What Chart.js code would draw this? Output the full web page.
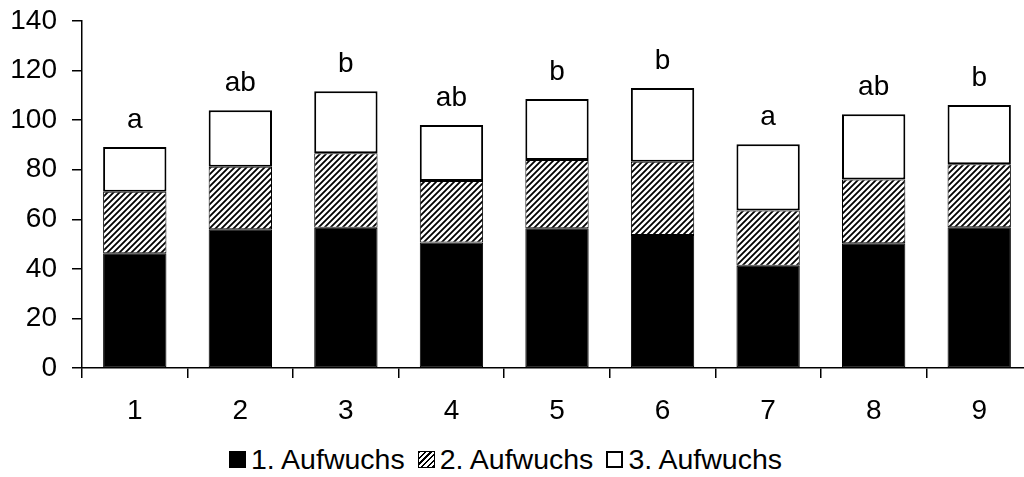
<!DOCTYPE html>
<html>
<head>
<meta charset="utf-8">
<script src="https://cdn.jsdelivr.net/npm/chart.js@4"></script>
<style>
  html, body { margin: 0; padding: 0; background: #fff; overflow: hidden; }
  #wrap { position: relative; width: 1024px; height: 477px; overflow: hidden; }
  #box { position: absolute; left: 0; top: 0; width: 1032px; height: 440px; }
  #legende {
    position: absolute; left: 229px; top: 443px;
    display: flex; align-items: center; white-space: nowrap;
    font-family: 'Liberation Sans', Arial, sans-serif; font-size: 28.5px; color: #000;
  }
  #legende .kasten { width: 17px; height: 17px; box-sizing: border-box; margin-right: 5px; }
  #legende .eintrag { display: flex; align-items: center; margin-right: 13px; }
  .k1 { background: #000; }
  .k2 { border: 1.5px solid #000; background: repeating-linear-gradient(-45deg, #000 0 1.6px, #fff 1.6px 4px); }
  .k3 { border: 2px solid #000; background: #fff; }
</style>
</head>
<body>
<div id="wrap">
  <div id="box"><canvas id="aufwuchsChart"></canvas></div>
  <div id="legende"></div>
</div>
<script>
const kategorien = ['1', '2', '3', '4', '5', '6', '7', '8', '9'];
const aufwuchs1 = [46.3, 56.0, 56.6, 50.6, 56.4, 53.7, 41.3, 50.3, 56.8];
const aufwuchs2 = [24.8, 25.2, 30.0, 24.8, 27.5, 29.5, 22.2, 25.8, 25.4];
const aufwuchs3 = [18.1, 22.8, 25.1, 22.6, 24.6, 29.8, 26.8, 26.3, 23.9];
const buchstaben = ['a', 'ab', 'b', 'ab', 'b', 'b', 'a', 'ab', 'b'];
const serienNamen = ['1. Aufwuchs', '2. Aufwuchs', '3. Aufwuchs'];
const yMin = 0, yMax = 140, yStep = 20;

const schrift = "'Liberation Sans', Arial, sans-serif";

// Schraffur fuer den 2. Aufwuchs
function schraffur(ctx) {
  const tile = document.createElement('canvas');
  tile.width = 6; tile.height = 6;
  const t = tile.getContext('2d');
  t.fillStyle = '#fff';
  t.fillRect(0, 0, 6, 6);
  t.strokeStyle = '#000';
  t.lineWidth = 1.8;
  t.beginPath();
  t.moveTo(0, 6); t.lineTo(6, 0);
  t.moveTo(-1, 1); t.lineTo(1, -1);
  t.moveTo(5, 7); t.lineTo(7, 5);
  t.stroke();
  return ctx.createPattern(tile, 'repeat');
}

const buchstabenPlugin = {
  id: 'buchstaben',
  afterDatasetsDraw(chart) {
    const ctx = chart.ctx;
    const meta = chart.getDatasetMeta(2);
    ctx.save();
    ctx.font = '28px ' + schrift;
    ctx.fillStyle = '#000';
    ctx.textAlign = 'center';
    ctx.textBaseline = 'alphabetic';
    meta.data.forEach((bar, i) => {
      ctx.fillText(buchstaben[i], bar.x, bar.y - 19);
    });
    ctx.restore();
  }
};

const ctx = document.getElementById('aufwuchsChart').getContext('2d');

new Chart(ctx, {
  type: 'bar',
  data: {
    labels: kategorien,
    datasets: [{
      label: serienNamen[0],
      data: aufwuchs1,
      backgroundColor: '#000',
      borderColor: '#000',
      borderWidth: 1,
      borderSkipped: false
    },
    {
      label: serienNamen[1],
      data: aufwuchs2,
      backgroundColor: schraffur(ctx),
      borderColor: '#000',
      borderWidth: 1,
      borderSkipped: false
    },
    {
      label: serienNamen[2],
      data: aufwuchs3,
      backgroundColor: '#fff',
      borderColor: '#000',
      borderWidth: 2,
      borderSkipped: false
    }]
  },
  options: {
    responsive: true,
    maintainAspectRatio: false,
    animation: false,
    barPercentage: 0.6,
    categoryPercentage: 1,
    layout: { padding: { top: 21, left: 0, right: 0, bottom: 0 } },
    plugins: {
      legend: { display: false },
      tooltip: { enabled: false }
    },
    scales: {
      x: {
        stacked: true,
        afterFit: s => { s.height = 72; s.paddingLeft = 0; s.paddingRight = 0; },
        grid: { offset: true, drawOnChartArea: false, drawTicks: true, tickLength: 10, color: '#000', lineWidth: 1.5 },
        border: { color: '#000', width: 1.5 },
        ticks: { color: '#000', padding: 16, font: { family: schrift, size: 28 } }
      },
      y: {
        stacked: true,
        min: yMin,
        max: yMax,
        afterFit: s => { s.width = 82; s.paddingTop = 0; s.paddingBottom = 0; },
        grid: { drawOnChartArea: false, drawTicks: true, tickLength: 10, color: '#000', lineWidth: 1.5 },
        border: { color: '#000', width: 1.5 },
        ticks: { stepSize: yStep, color: '#000', padding: 15, font: { family: schrift, size: 28 } }
      }
    }
  },
  plugins: [buchstabenPlugin]
});

// Legende unten
const legende = document.getElementById('legende');
serienNamen.forEach((name, i) => {
  const eintrag = document.createElement('div');
  eintrag.className = 'eintrag';
  const kasten = document.createElement('span');
  kasten.className = 'kasten k' + (i + 1);
  const text = document.createElement('span');
  text.textContent = name;
  eintrag.appendChild(kasten);
  eintrag.appendChild(text);
  legende.appendChild(eintrag);
});
</script>
</body>
</html>
